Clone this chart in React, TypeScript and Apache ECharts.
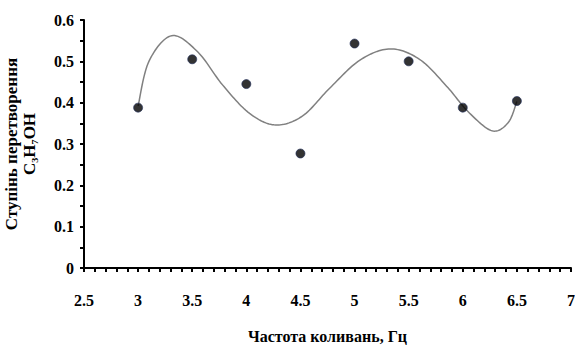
import React, { useEffect, useRef } from "react";
import * as echarts from "echarts";

const pointX = [3, 3.5, 4, 4.5, 5, 5.5, 6, 6.5];
const pointY = [0.388, 0.505, 0.445, 0.277, 0.543, 0.5, 0.388, 0.404];

const curveX = [3.0, 3.1, 3.31, 3.55, 3.78, 4.03, 4.27, 4.52, 4.77, 5.05, 5.33, 5.6, 5.85, 6.05, 6.27, 6.42, 6.5];
const curveY = [0.392, 0.5, 0.562, 0.523, 0.443, 0.374, 0.346, 0.368, 0.435, 0.503, 0.53, 0.505, 0.44, 0.378, 0.332, 0.352, 0.403];

const xTitle = "Частота коливань, Гц";
const yTitle = "Ступінь перетворення\nC₃H₇OH";

function catmullRom(pts: number[][], steps: number): number[][] {
  const out: number[][] = [];
  const n = pts.length;
  for (let i = 0; i < n - 1; i++) {
    const p0 = pts[Math.max(i - 1, 0)];
    const p1 = pts[i];
    const p2 = pts[i + 1];
    const p3 = pts[Math.min(i + 2, n - 1)];
    for (let s = 0; s < steps; s++) {
      const t = s / steps;
      const t2 = t * t;
      const t3 = t2 * t;
      const f = (a: number, b: number, c: number, d: number) =>
        0.5 * (2 * b + (-a + c) * t + (2 * a - 5 * b + 4 * c - d) * t2 + (-a + 3 * b - 3 * c + d) * t3);
      out.push([f(p0[0], p1[0], p2[0], p3[0]), f(p0[1], p1[1], p2[1], p3[1])]);
    }
  }
  out.push(pts[n - 1]);
  return out;
}

export default function App() {
  const ref = useRef<HTMLDivElement>(null);
  useEffect(() => {
    const chart = echarts.init(ref.current!, null, { renderer: "svg" });
    const font = "'Liberation Serif', 'Times New Roman', serif";
    chart.setOption({
      animation: false,
      backgroundColor: "#ffffff",
      grid: { left: 84, right: 4, top: 20, bottom: 82, outerBoundsMode: "none", containLabel: false },
      xAxis: {
        type: "value",
        min: 2.5,
        max: 7,
        interval: 0.5,
        name: xTitle,
        nameLocation: "middle",
        nameGap: 60,
        nameTextStyle: { fontFamily: font, fontWeight: "bold", fontSize: 16, color: "#000" },
        axisLine: { lineStyle: { color: "#000", width: 2 } },
        axisTick: { show: true, length: 4, lineStyle: { color: "#000", width: 2 } },
        minorTick: { show: true, splitNumber: 5, length: 4, lineStyle: { color: "#000", width: 2 } },
        splitLine: { show: false },
        axisLabel: { fontFamily: font, fontWeight: "bold", fontSize: 16, color: "#000", margin: 24 },
      },
      yAxis: {
        type: "value",
        min: 0,
        max: 0.6,
        interval: 0.1,
        name: yTitle,
        nameLocation: "middle",
        nameGap: 46,
        nameRotate: 90,
        nameTextStyle: { fontFamily: font, fontWeight: "bold", fontSize: 17, color: "#000", lineHeight: 18, align: "center" },
        axisLine: { show: true, lineStyle: { color: "#000", width: 2 } },
        axisTick: { show: true, length: 4, lineStyle: { color: "#000", width: 2 } },
        minorTick: { show: true, splitNumber: 2, length: 4, lineStyle: { color: "#000", width: 2 } },
        splitLine: { show: false },
        axisLabel: { fontFamily: font, fontWeight: "bold", fontSize: 16, color: "#000", margin: 10 },
      },
      series: [
        {
          type: "custom",
          coordinateSystem: "cartesian2d",
          data: [[curveX[0], curveY[0]]],
          z: 1,
          renderItem: (_params: any, api: any) => {
            const px = curveX.map((x, i) => api.coord([x, curveY[i]]));
            const pts = catmullRom(px, 16);
            return {
              type: "polyline",
              shape: { points: pts, smooth: 0 },
              style: { stroke: "#808080", lineWidth: 1.5, fill: null },
            };
          },
        },
        {
          type: "scatter",
          data: pointX.map((x, i) => [x, pointY[i]]),
          symbolSize: 9,
          itemStyle: { color: "#000000", borderColor: "#1f2d5a", borderWidth: 0.8 },
          z: 2,
        },
      ],
    });
    return () => chart.dispose();
  }, []);
  return <div ref={ref} style={{ width: 575, height: 350, position: "absolute", left: 0, top: 0 }} />;
}
